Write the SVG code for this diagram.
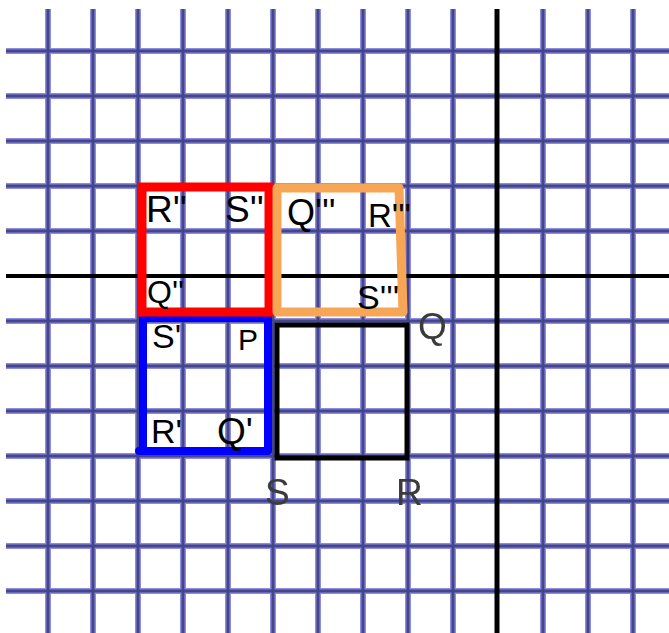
<svg xmlns="http://www.w3.org/2000/svg" width="669" height="633" viewBox="0 0 669 633">
<defs>
<style>
.gh{stroke:#8c8ce0;stroke-width:6;}
.gc{stroke:#45458a;stroke-width:3;}
.lbl{font-family:"Liberation Sans",Arial,sans-serif;fill:#000;}
.gray{fill:#3a3a3a;}
</style>
<filter id="blur" x="-5%" y="-5%" width="110%" height="110%"><feGaussianBlur stdDeviation="0.6"/></filter>
</defs>
<rect x="0" y="0" width="669" height="633" fill="#ffffff"/>
<g id="grid" filter="url(#blur)">
<g class="gh">
<path d="M48 9V633M93 9V633M138 9V633M183 9V633M228 9V633M273 9V633M318 9V633M363 9V633M408 9V633M453 9V633M543 9V633M588 9V633M633 9V633"/>
<path d="M6 51H669M6 96H669M6 141H669M6 186H669M6 231H669M6 321H669M6 366H669M6 411H669M6 456H669M6 501H669M6 546H669M6 591H669"/>
</g>
<g class="gc">
<path d="M48 9V633M93 9V633M138 9V633M183 9V633M228 9V633M273 9V633M318 9V633M363 9V633M408 9V633M453 9V633M543 9V633M588 9V633M633 9V633"/>
<path d="M6 51H669M6 96H669M6 141H669M6 186H669M6 231H669M6 321H669M6 366H669M6 411H669M6 456H669M6 501H669M6 546H669M6 591H669"/>
</g>
</g>
<g id="axes" stroke="#000" filter="url(#blur)">
<line x1="497" y1="9" x2="497" y2="633" stroke-width="5"/>
<line x1="6" y1="276" x2="669" y2="276" stroke-width="4"/>
</g>
<g id="square-PQRS">
<rect x="277" y="325" width="130" height="133" fill="none" stroke="#000" stroke-width="5" filter="url(#blur)"/>
</g>
<g id="square-blue">
<rect x="143" y="318" width="125" height="133" fill="none" stroke="#0000ff" stroke-width="8" stroke-linejoin="round"/>
<line x1="139" y1="451" x2="143" y2="451" stroke="#0000ff" stroke-width="8" stroke-linecap="round"/>
</g>
<g id="square-red">
<rect x="142" y="187" width="127" height="125" fill="none" stroke="#ff0000" stroke-width="9"/>
<circle cx="269" cy="312" r="4.5" fill="#ff0000"/>
</g>
<g id="square-orange">
<polygon points="277,188 399,188 403,312 277,312" fill="none" stroke="#f7a656" stroke-width="9" stroke-linejoin="round"/>
</g>
<g id="labels" class="lbl">
<text x="146" y="222" font-size="37">R''</text>
<text x="225" y="222" font-size="37">S''</text>
<text x="287" y="225" font-size="36">Q'''</text>
<text x="368" y="227" font-size="33">R'''</text>
<text x="147" y="303" font-size="32">Q''</text>
<text x="357" y="309" font-size="34">S'''</text>
<text x="152" y="348" font-size="34">S'</text>
<text x="238" y="350" font-size="30">P</text>
<text x="151" y="443" font-size="34">R'</text>
<text x="217" y="444" font-size="37">Q'</text>
<g class="gray" filter="url(#blur)">
<text x="418" y="339" font-size="37">Q</text>
<text x="265" y="505" font-size="37">S</text>
<text x="396" y="505" font-size="37">R</text>
</g>
</g>
</svg>
